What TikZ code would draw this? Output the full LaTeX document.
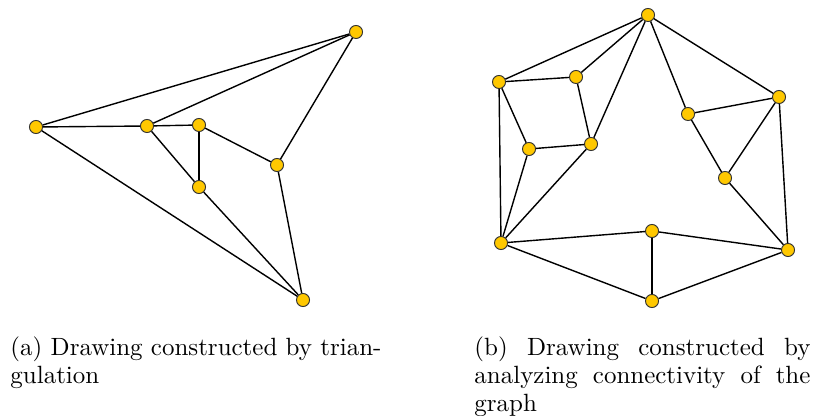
\documentclass[tikz,border=0pt]{standalone}
\usepackage{amsmath}
\usepackage{tikz}
\usetikzlibrary{positioning}

\definecolor{vertexyellow}{RGB}{255,200,0}

\begin{document}
\begin{tikzpicture}[
        x=0.4286pt, y=-0.4286pt,
        vertex/.style={circle, draw=black!80, fill=vertexyellow, inner sep=0pt,
                       minimum size=5.6pt, line width=0.4pt},
        edge/.style={line width=0.6pt},
        caption/.style={anchor=north west, inner sep=0pt, align=justify,
                        font=\fontsize{10.7}{12}\selectfont}
    ]
        \useasboundingbox (0,0) rectangle (816,416);

        % (a) triangulation
        \node[vertex] (la) at (36,127) {};
        \node[vertex] (lb) at (147,126) {};
        \node[vertex] (lc) at (199,125) {};
        \node[vertex] (ld) at (199,187) {};
        \node[vertex] (le) at (277,165) {};
        \node[vertex] (lf) at (356,32) {};
        \node[vertex] (lg) at (303,300) {};

        \foreach \u/\v in {la/lf, la/lb, la/lg, lb/lf, lb/lc, lb/ld, lc/ld, lc/le, le/lf, le/lg, ld/lg}
            \draw[edge] (\u) -- (\v);

        % (b) connectivity
        \node[vertex] (top) at (648,15) {};
        \node[vertex] (p1) at (499,82) {};
        \node[vertex] (p2) at (576,77) {};
        \node[vertex] (p3) at (529,149) {};
        \node[vertex] (p4) at (591,144) {};
        \node[vertex] (bl) at (501,243) {};
        \node[vertex] (q1) at (688,114) {};
        \node[vertex] (qr) at (779,97) {};
        \node[vertex] (q2) at (725,178) {};
        \node[vertex] (br) at (788,250) {};
        \node[vertex] (mid) at (652,231) {};
        \node[vertex] (bot) at (652,301) {};

        \foreach \u/\v in {top/p1, top/p2, top/p4, top/q1, top/qr, p1/p2, p1/p3, p1/bl,
                           p2/p4, p3/p4, p3/bl, p4/bl, q1/qr, q1/q2, qr/q2, qr/br,
                           q2/br, bl/mid, mid/br, mid/bot, bl/bot, bot/br}
            \draw[edge] (\u) -- (\v);

        \node[caption, text width=175pt] (capa) at (10,336)
            {(a) Drawing constructed by trian-\\gulation};
        \node[caption, text width=144pt] (capb) at (474,336)
            {(b) Drawing constructed by \mbox{analyzing} connectivity of the graph};
    \end{tikzpicture}
\end{document}
